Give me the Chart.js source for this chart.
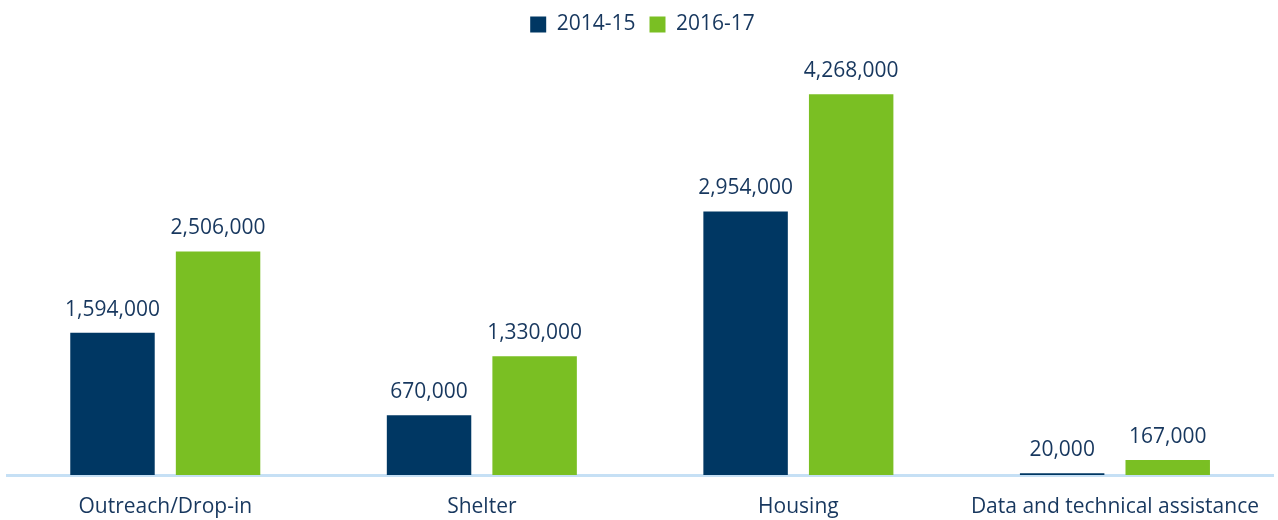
<!DOCTYPE html>
<html>
<head>
<meta charset="utf-8">
<script src="https://cdn.jsdelivr.net/npm/chart.js@4"></script>
<style>
  html, body { margin: 0; padding: 0; background: #fff; }
  #wrap { width: 1278px; height: 520px; }
</style>
</head>
<body>
<div id="wrap"><canvas id="fundingChart"></canvas></div>
<script>
// categorias e valores
const categories = ['Outreach/Drop-in', 'Shelter', 'Housing', 'Data and technical assistance'];
const series2014 = [1594000, 670000, 2954000, 20000];
const series2016 = [2506000, 1330000, 4268000, 167000];
const seriesNames = ['2014-15', '2016-17'];

const textColor = '#17375E';

// desenha os valores acima das barras
const valueLabels = {
    id: 'valueLabels',
    afterDatasetsDraw(chart) {
        const ctx = chart.ctx;
        ctx.save();
        ctx.font = '21px "Open Sans", sans-serif';
        ctx.fillStyle = textColor;
        ctx.textAlign = 'center';
        ctx.textBaseline = 'alphabetic';
        chart.data.datasets.forEach((ds, i) => {
            chart.getDatasetMeta(i).data.forEach((bar, j) => {
                ctx.fillText(ds.data[j].toLocaleString('en-US'), bar.x, bar.y - 17);
            });
        });
        ctx.restore();
    }
};

const ctx = document.getElementById('fundingChart').getContext('2d');
new Chart(ctx, {
    type: 'bar',
    data: {
        labels: categories,
        datasets: [
            { label: seriesNames[0], data: series2014, backgroundColor: '#003763' },
            { label: seriesNames[1], data: series2016, backgroundColor: '#7ABF23' }
        ]
    },
    options: {
        responsive: true,
        maintainAspectRatio: false,
        animation: false,
        categoryPercentage: 0.667,
        barPercentage: 0.8,
        layout: { padding: { left: 7, right: 0, top: 0, bottom: 0 } },
        plugins: {
            legend: {
                labels: {
                    color: textColor,
                    font: { size: 21, family: '"Open Sans", sans-serif' },
                    boxWidth: 16,
                    boxHeight: 16,
                    padding: 14
                }
            },
            tooltip: { enabled: false }
        },
        scales: {
            x: {
                grid: { display: false, drawTicks: false },
                border: { color: '#C6E0F5', width: 3 },
                ticks: {
                    color: textColor,
                    font: { size: 21, family: '"Open Sans", sans-serif' },
                    padding: 19
                },
                afterFit(scale) { scale.height = 45; }
            },
            y: {
                display: false,
                beginAtZero: true,
                max: 4820000
            }
        }
    },
    plugins: [valueLabels]
});
</script>
</body>
</html>
